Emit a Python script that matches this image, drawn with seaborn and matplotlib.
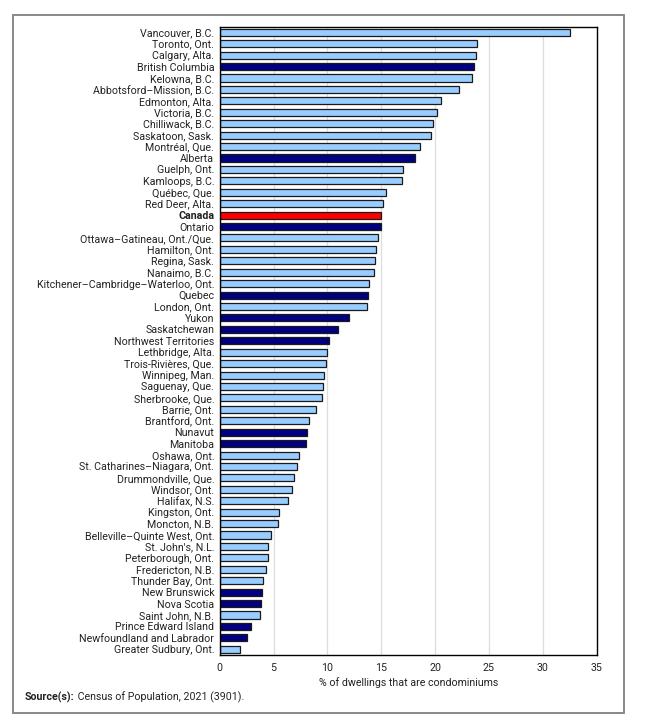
import pandas as pd
import matplotlib
matplotlib.use("Agg")
import matplotlib.pyplot as plt
import seaborn as sns
from matplotlib.patches import Rectangle

places = ["Vancouver, B.C.", "Toronto, Ont.", "Calgary, Alta.", "British Columbia",
          "Kelowna, B.C.", "Abbotsford\u2013Mission, B.C.", "Edmonton, Alta.", "Victoria, B.C.",
          "Chilliwack, B.C.", "Saskatoon, Sask.", "Montréal, Que.", "Alberta",
          "Guelph, Ont.", "Kamloops, B.C.", "Québec, Que.", "Red Deer, Alta.",
          "Canada", "Ontario", "Ottawa\u2013Gatineau, Ont./Que.", "Hamilton, Ont.",
          "Regina, Sask.", "Nanaimo, B.C.", "Kitchener\u2013Cambridge\u2013Waterloo, Ont.", "Quebec",
          "London, Ont.", "Yukon", "Saskatchewan", "Northwest Territories",
          "Lethbridge, Alta.", "Trois-Rivières, Que.", "Winnipeg, Man.", "Saguenay, Que.",
          "Sherbrooke, Que.", "Barrie, Ont.", "Brantford, Ont.", "Nunavut",
          "Manitoba", "Oshawa, Ont.", "St. Catharines\u2013Niagara, Ont.", "Drummondville, Que.",
          "Windsor, Ont.", "Halifax, N.S.", "Kingston, Ont.", "Moncton, N.B.",
          "Belleville\u2013Quinte West, Ont.", "St. John's, N.L.", "Peterborough, Ont.", "Fredericton, N.B.",
          "Thunder Bay, Ont.", "New Brunswick", "Nova Scotia", "Saint John, N.B.",
          "Prince Edward Island", "Newfoundland and Labrador", "Greater Sudbury, Ont."]

pct = [32.5, 23.9, 23.8, 23.6,
       23.4, 22.2, 20.5, 20.2,
       19.8, 19.6, 18.6, 18.1,
       17.0, 16.9, 15.4, 15.2,
       15.0, 15.0, 14.7, 14.5,
       14.4, 14.3, 13.9, 13.8,
       13.7, 12.0, 11.0, 10.1,
       10.0, 9.9, 9.7, 9.6,
       9.5, 8.9, 8.3, 8.1,
       8.0, 7.4, 7.2, 6.9,
       6.7, 6.3, 5.5, 5.4,
       4.8, 4.5, 4.5, 4.3,
       4.0, 3.9, 3.8, 3.7,
       2.9, 2.5, 1.9]

provinces = ["British Columbia", "Alberta", "Ontario", "Quebec", "Yukon", "Saskatchewan",
             "Northwest Territories", "Nunavut", "Manitoba", "New Brunswick", "Nova Scotia",
             "Prince Edward Island", "Newfoundland and Labrador"]

def kind(p):
    if p == "Canada":
        return "country"
    if p in provinces:
        return "province"
    return "cma"

df = pd.DataFrame({"place": places, "pct": pct})
df["kind"] = df["place"].apply(kind)

colors = {"cma": "#99ccff", "province": "#000080", "country": "#ff0000"}

sns.set_style("white")
plt.rcParams["font.family"] = ["Roboto", "DejaVu Sans"]
fs = 7.7

fig = plt.figure(figsize=(6.6, 7.24), dpi=100)
ax = fig.add_axes([0.333, 0.0953, 0.571, 0.868])

sns.barplot(data=df, x="pct", y="place", hue="kind", palette=colors, dodge=False,
            legend=False, width=0.62, saturation=1, edgecolor="#1a1a1a", linewidth=0.9, ax=ax)

ax.set_xlim(0, 35)
ax.set_xticks(range(0, 36, 5))
ax.xaxis.grid(True, color="#dddddd", linewidth=0.9)
ax.set_axisbelow(True)
for s in ax.spines.values():
    s.set_visible(True)
    s.set_color("black")
    s.set_linewidth(1.0)
ax.tick_params(axis="both", length=0, labelsize=fs, colors="#222222")
ax.tick_params(axis="x", pad=6)
ax.tick_params(axis="y", pad=4)
ax.set_ylabel("")
ax.set_xlabel("% of dwellings that are condominiums", fontsize=fs, color="#222222", labelpad=3)
for lab in ax.get_yticklabels():
    if lab.get_text() == "Canada":
        lab.set_fontweight("bold")

t1 = fig.text(0.038, 0.033, "Source(s):", fontsize=fs, fontweight="bold", color="#222222")
fig.add_artist(matplotlib.text.Annotation(" Census of Population, 2021 (3901).", xy=(1, 0),
                                          xycoords=t1, va="bottom", fontsize=fs, color="#222222"))

fig.patches.append(Rectangle((0.02, 0.015), 0.925, 0.964, transform=fig.transFigure,
                             fill=False, edgecolor="#808080", linewidth=1.3))

fig.savefig("out.png", dpi=100)
